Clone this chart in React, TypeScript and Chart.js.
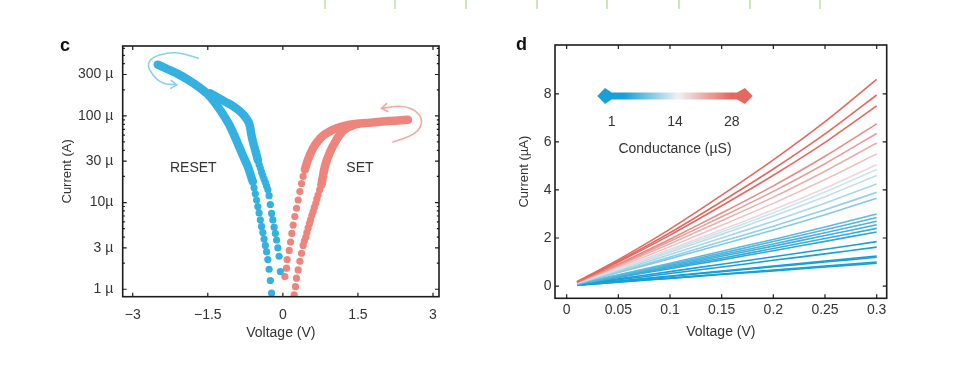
import React, { useEffect, useRef } from "react";
import { Chart, registerables } from "chart.js";
Chart.register(...registerables);

const FONT = "'Liberation Sans', Arial, Helvetica, sans-serif";
const TEXT = "#333333";

// ---------------- Panel c (I–V hysteresis, log current in µA) ----------------
const voltageTicksC = [-3, -1.5, 0, 1.5, 3];
const voltageTickLabelsC = ["−3", "−1.5", "0", "1.5", "3"];
const currentTicksC = [1, 3, 10, 30, 100, 300];
const currentTickLabelsC = ["1 µ", "3 µ", "10µ", "30 µ", "100 µ", "300 µ"];

// RESET branch with lower current (outer/left)
const resetBandLower: [number, number][] = [
  [-2.5, 390], [-2.3, 345], [-2.1, 305], [-1.9, 262], [-1.7, 220], [-1.5, 178],
  [-1.35, 140], [-1.2, 105], [-1.05, 75], [-0.9, 48], [-0.8, 35], [-0.7, 26], [-0.6, 17.4],
];
const resetDotsLower: [number, number][] = [
  [-0.6, 17.4], [-0.575, 14.8], [-0.55, 12.6], [-0.525, 10.7], [-0.5, 9.0], [-0.475, 7.6],
  [-0.45, 6.3], [-0.425, 5.3], [-0.4, 4.5], [-0.375, 3.8], [-0.35, 3.2], [-0.325, 2.7],
  [-0.3, 2.2], [-0.275, 1.7], [-0.25, 1.26], [-0.225, 0.9],
];
// RESET branch with higher current (inner/right)
const resetBandUpper: [number, number][] = [
  [-1.45, 182], [-1.3, 162], [-1.15, 145], [-1.0, 130], [-0.85, 112], [-0.75, 97],
  [-0.68, 84], [-0.65, 72], [-0.63, 61], [-0.6, 51], [-0.55, 40], [-0.5, 31],
];
const resetDotsUpper: [number, number][] = [
  [-0.5, 31], [-0.475, 27.5], [-0.45, 25], [-0.425, 22.4], [-0.4, 20.4], [-0.375, 18.6],
  [-0.35, 17], [-0.325, 15.5], [-0.3, 14.1], [-0.275, 12], [-0.25, 9.5], [-0.225, 7.5],
  [-0.2, 6.3], [-0.175, 5.2], [-0.15, 4.4], [-0.125, 3.7], [-0.1, 3.0], [-0.075, 2.4], [-0.05, 1.6],
];
// SET branch with higher current (inner/left)
const setDotsInner: [number, number][] = [
  [0.04, 1.4], [0.073, 1.75], [0.086, 2.2], [0.126, 2.8], [0.153, 3.5], [0.18, 4.4],
  [0.206, 5.5], [0.24, 6.9], [0.273, 8.6], [0.306, 10.7], [0.34, 13.4], [0.373, 16.6],
  [0.405, 20], [0.44, 24],
];
const setBandInner: [number, number][] = [
  [0.44, 24], [0.5, 31], [0.6, 42], [0.7, 51], [0.8, 59], [0.95, 67], [1.1, 73],
  [1.25, 77], [1.4, 80], [1.6, 82], [1.8, 84], [2.0, 86], [2.25, 88], [2.5, 90],
];
// SET branch with lower current (outer/right)
const setDotsOuter: [number, number][] = [
  [0.226, 0.86], [0.253, 1.07], [0.273, 1.34], [0.306, 1.67], [0.34, 2.1], [0.373, 2.6],
  [0.405, 3.2], [0.43, 3.6], [0.46, 4.0], [0.48, 4.5], [0.505, 5.1], [0.53, 5.7],
  [0.553, 6.3], [0.58, 7.1], [0.605, 7.9], [0.63, 8.8], [0.66, 9.8], [0.68, 11],
  [0.705, 12.2], [0.735, 14], [0.77, 16],
];
const setBandOuter: [number, number][] = [
  [0.77, 16], [0.84, 26], [0.94, 38], [1.07, 53], [1.17, 64], [1.27, 72], [1.4, 78], [1.5, 81],
];
// sweep-direction arrows (V, µA)
const resetArrowPath: [number, number][] = [
  [-1.69, 462], [-2.0, 530], [-2.3, 540], [-2.62, 470], [-2.71, 386], [-2.6, 290], [-2.4, 235], [-2.12, 228],
];
const setArrowPath: [number, number][] = [
  [2.2, 50], [2.6, 58], [2.8, 80], [2.72, 110], [2.4, 133], [1.97, 122],
];
const regionLabels: [string, number, number][] = [
  ["RESET", -1.79, 24.8],
  ["SET", 1.54, 24.8],
];

// ---------------- Panel d (linear I–V for many conductance states, µA) ----------------
const sweepVoltages = [0.01, 0.05, 0.1, 0.15, 0.2, 0.25, 0.3];
const sweepCurrents: number[][] = [
  [0.18, 1.1, 2.37, 3.78, 5.25, 6.84, 8.6],
  [0.17, 1.04, 2.22, 3.52, 4.87, 6.33, 7.95],
  [0.17, 1.0, 2.12, 3.34, 4.61, 5.98, 7.5],
  [0.16, 0.92, 1.95, 3.04, 4.17, 5.4, 6.75],
  [0.16, 0.88, 1.86, 2.88, 3.94, 5.09, 6.35],
  [0.15, 0.84, 1.76, 2.72, 3.7, 4.78, 5.95],
  [0.14, 0.79, 1.64, 2.53, 3.44, 4.43, 5.5],
  [0.14, 0.73, 1.53, 2.34, 3.17, 4.07, 5.05],
  [0.13, 0.7, 1.47, 2.25, 3.05, 3.91, 4.85],
  [0.13, 0.68, 1.41, 2.15, 2.91, 3.72, 4.6],
  [0.12, 0.64, 1.31, 2.0, 2.7, 3.45, 4.25],
  [0.11, 0.59, 1.21, 1.85, 2.49, 3.17, 3.9],
  [0.11, 0.56, 1.14, 1.73, 2.33, 2.97, 3.65],
  [0.09, 0.47, 0.95, 1.45, 1.94, 2.46, 3.0],
  [0.09, 0.45, 0.91, 1.37, 1.85, 2.34, 2.85],
  [0.08, 0.43, 0.86, 1.3, 1.75, 2.22, 2.7],
  [0.08, 0.4, 0.81, 1.24, 1.66, 2.1, 2.55],
  [0.07, 0.38, 0.77, 1.16, 1.56, 1.98, 2.4],
  [0.07, 0.36, 0.72, 1.09, 1.47, 1.86, 2.25],
  [0.06, 0.3, 0.6, 0.91, 1.22, 1.53, 1.85],
  [0.05, 0.26, 0.52, 0.79, 1.07, 1.34, 1.62],
  [0.04, 0.21, 0.42, 0.62, 0.83, 1.04, 1.25],
  [0.04, 0.2, 0.4, 0.6, 0.8, 1.0, 1.2],
  [0.03, 0.17, 0.33, 0.5, 0.67, 0.83, 1.0],
  [0.03, 0.16, 0.32, 0.48, 0.63, 0.79, 0.95],
];
const voltageTicksD = [0, 0.05, 0.1, 0.15, 0.2, 0.25, 0.3];
const voltageTickLabelsD = ["0", "0.05", "0.1", "0.15", "0.2", "0.25", "0.3"];
const currentTicksD = [0, 2, 4, 6, 8];
const currentTickLabelsD = ["0", "2", "4", "6", "8"];
const conductanceTickLabels = ["1", "14", "28"];

// ---------------- styles ----------------
const DOT_BLUE = "rgb(52,176,225)";
const DOT_RED = "rgb(237,133,124)";
const CM_BLUE = [24, 160, 214];
const CM_WHITE = [238, 242, 244];
const CM_RED = [228, 104, 96];

function mix(a: number[], b: number[], t: number) {
  return a.map((v, i) => Math.round(v + (b[i] - v) * t));
}
function rgb(c: number[]) {
  return `rgb(${c[0]},${c[1]},${c[2]})`;
}
function lineColor(end: number) {
  if (end < 4.9) {
    const t = 0.15 + 0.85 * Math.min(1, (4.9 - end) / 3.0);
    return rgb(mix(CM_WHITE, CM_BLUE, t));
  }
  const t = 0.15 + 0.85 * Math.min(1, (end - 4.9) / 2.6);
  return rgb(mix(CM_WHITE, CM_RED, t));
}

// frame with inward ticks on all four sides
const framePlugin = {
  id: "frame",
  afterDatasetsDraw(chart: any, _args: any, opts: any) {
    const { ctx, chartArea: a, scales } = chart;
    const xs = scales.x;
    const ys = scales.y;
    ctx.save();
    ctx.strokeStyle = "#1c1c1c";
    ctx.lineWidth = 1.2;
    ctx.beginPath();
    const major = opts.major ?? 4;
    const minor = opts.minor ?? 2.2;
    const xt = (v: number, L: number) => {
      const p = xs.getPixelForValue(v);
      ctx.moveTo(p, a.bottom);
      ctx.lineTo(p, a.bottom - L);
      ctx.moveTo(p, a.top);
      ctx.lineTo(p, a.top + L);
    };
    const yt = (v: number, L: number) => {
      const p = ys.getPixelForValue(v);
      ctx.moveTo(a.left, p);
      ctx.lineTo(a.left + L, p);
      ctx.moveTo(a.right, p);
      ctx.lineTo(a.right - L, p);
    };
    xs.ticks.forEach((t: any) => xt(t.value, major));
    ys.ticks.forEach((t: any) => yt(t.value, major));
    (opts.yMinor || []).forEach((v: number) => yt(v, minor));
    ctx.stroke();
    ctx.lineWidth = 1.6;
    ctx.strokeRect(a.left, a.top, a.right - a.left, a.bottom - a.top);
    ctx.restore();
  },
};

function drawCurve(ctx: CanvasRenderingContext2D, pts: { x: number; y: number }[]) {
  ctx.beginPath();
  ctx.moveTo(pts[0].x, pts[0].y);
  for (let i = 1; i < pts.length - 1; i++) {
    const mx = (pts[i].x + pts[i + 1].x) / 2;
    const my = (pts[i].y + pts[i + 1].y) / 2;
    ctx.quadraticCurveTo(pts[i].x, pts[i].y, mx, my);
  }
  const last = pts[pts.length - 1];
  ctx.lineTo(last.x, last.y);
  ctx.stroke();
  const prev = pts[pts.length - 2];
  const ang = Math.atan2(last.y - prev.y, last.x - prev.x);
  const L = 7;
  ctx.beginPath();
  ctx.moveTo(last.x - L * Math.cos(ang - 0.6), last.y - L * Math.sin(ang - 0.6));
  ctx.lineTo(last.x, last.y);
  ctx.lineTo(last.x - L * Math.cos(ang + 0.6), last.y - L * Math.sin(ang + 0.6));
  ctx.stroke();
}

const annotC = {
  id: "annotC",
  afterDraw(chart: any) {
    const { ctx, scales } = chart;
    const xs = scales.x;
    const ys = scales.y;
    const px = (p: [number, number]) => ({ x: xs.getPixelForValue(p[0]), y: ys.getPixelForValue(p[1]) });
    ctx.save();
    ctx.lineCap = "round";
    ctx.lineJoin = "round";
    ctx.lineWidth = 1.6;
    ctx.strokeStyle = "rgb(138,208,236)";
    drawCurve(ctx, resetArrowPath.map(px));
    ctx.strokeStyle = "rgb(244,168,158)";
    drawCurve(ctx, setArrowPath.map(px));
    ctx.fillStyle = TEXT;
    ctx.font = `14px ${FONT}`;
    ctx.textAlign = "center";
    ctx.textBaseline = "middle";
    regionLabels.forEach(([t, v, i]) => {
      const p = px([v, i]);
      ctx.fillText(t, p.x, p.y);
    });
    ctx.fillStyle = "#111";
    ctx.font = `bold 18px ${FONT}`;
    ctx.textAlign = "left";
    ctx.textBaseline = "alphabetic";
    ctx.fillText("c", 60, 51);
    ctx.restore();
  },
};

const annotD = {
  id: "annotD",
  afterDraw(chart: any) {
    const { ctx } = chart;
    ctx.save();
    // colour-bar double arrow
    const tipL = 117.3, wideL = 125, backL = 131.7, backR = 257, wideR = 265, tipR = 272.7;
    const cy = 96, bh = 3.5, hh = 8;
    const g = ctx.createLinearGradient(tipL, 0, tipR, 0);
    g.addColorStop(0, rgb(CM_BLUE));
    g.addColorStop(0.17, rgb(CM_BLUE));
    g.addColorStop(0.52, rgb(CM_WHITE));
    g.addColorStop(0.86, rgb(CM_RED));
    g.addColorStop(1, rgb(CM_RED));
    ctx.fillStyle = g;
    ctx.beginPath();
    ctx.moveTo(tipL, cy);
    ctx.lineTo(wideL, cy - hh);
    ctx.lineTo(backL, cy - bh);
    ctx.lineTo(backR, cy - bh);
    ctx.lineTo(wideR, cy - hh);
    ctx.lineTo(tipR, cy);
    ctx.lineTo(wideR, cy + hh);
    ctx.lineTo(backR, cy + bh);
    ctx.lineTo(backL, cy + bh);
    ctx.lineTo(wideL, cy + hh);
    ctx.closePath();
    ctx.fill();
    ctx.fillStyle = TEXT;
    ctx.font = `14px ${FONT}`;
    ctx.textAlign = "center";
    ctx.textBaseline = "middle";
    const lx = [131.7, 195, 251.7];
    conductanceTickLabels.forEach((t, i) => ctx.fillText(t, lx[i], 121.7));
    ctx.fillText("Conductance (µS)", 195, 149.3);
    ctx.fillStyle = "#111";
    ctx.font = `bold 18px ${FONT}`;
    ctx.textAlign = "left";
    ctx.textBaseline = "alphabetic";
    ctx.fillText("d", 36, 50);
    ctx.restore();
  },
};

const toXY = (arr: [number, number][]) => arr.map(([x, y]) => ({ x, y }));
const band = (arr: [number, number][], color: string) => ({
  data: toXY(arr),
  showLine: true,
  borderColor: color,
  borderWidth: 8.5,
  borderCapStyle: "round",
  borderJoinStyle: "round",
  tension: 0.25,
  pointRadius: 0,
});
const dots = (arr: [number, number][], color: string) => ({
  data: toXY(arr),
  showLine: false,
  pointRadius: 3.6,
  pointBorderWidth: 0,
  pointBackgroundColor: color,
  backgroundColor: color,
  borderColor: color,
});

const tickFont = { family: FONT, size: 14 };

function PanelC() {
  const ref = useRef<HTMLCanvasElement>(null);
  useEffect(() => {
    const yMinor: number[] = [];
    [1, 10, 100].forEach((d) => {
      for (let m = 2; m <= 9; m++) {
        const v = m * d;
        if (m !== 3 && v < 640) yMinor.push(v);
      }
    });
    const chart = new Chart(ref.current!, {
      type: "scatter",
      data: {
        datasets: [
          band(resetBandLower, DOT_BLUE),
          band(resetBandUpper, DOT_BLUE),
          dots(resetDotsLower, DOT_BLUE),
          dots(resetDotsUpper, DOT_BLUE),
          band(setBandInner, DOT_RED),
          band(setBandOuter, DOT_RED),
          dots(setDotsInner, DOT_RED),
          dots(setDotsOuter, DOT_RED),
        ] as any,
      },
      options: {
        responsive: false,
        animation: false,
        devicePixelRatio: 1,
        layout: { padding: { left: 60, top: 46, right: 41, bottom: 40.3 } },
        plugins: {
          legend: { display: false },
          tooltip: { enabled: false },
          frame: { yMinor, major: 4, minor: 2.2 },
        } as any,
        scales: {
          x: {
            type: "linear",
            min: -3.2,
            max: 3.12,
            grid: { display: false, drawTicks: false },
            border: { display: false },
            afterBuildTicks: (s: any) => {
              s.ticks = voltageTicksC.map((v) => ({ value: v }));
            },
            afterFit: (s: any) => {
              s.height = 45;
            },
            ticks: {
              autoSkip: false,
              maxRotation: 0,
              padding: 9.9,
              font: tickFont,
              color: TEXT,
              callback: (_v: any, i: number) => voltageTickLabelsC[i],
            },
            title: { display: true, text: "Voltage (V)", font: { family: FONT, size: 14 }, color: TEXT, padding: 0 },
          },
          y: {
            type: "logarithmic",
            min: 0.82,
            max: 640,
            grid: { display: false, drawTicks: false },
            border: { display: false },
            afterBuildTicks: (s: any) => {
              s.ticks = currentTicksC.map((v) => ({ value: v }));
            },
            afterFit: (s: any) => {
              s.width = 62.7;
            },
            ticks: {
              autoSkip: false,
              padding: 9.4,
              font: tickFont,
              color: TEXT,
              callback: (_v: any, i: number) => currentTickLabelsC[i],
            },
            title: { display: true, text: "Current (A)", font: { family: FONT, size: 13 }, color: TEXT, padding: 0 },
          },
        },
      } as any,
      plugins: [framePlugin, annotC],
    });
    return () => chart.destroy();
  }, []);
  return (
    <canvas
      ref={ref}
      width={480}
      height={382}
      style={{ position: "absolute", left: 0, top: 0, width: 480, height: 382 }}
    />
  );
}

function PanelD() {
  const ref = useRef<HTMLCanvasElement>(null);
  useEffect(() => {
    const datasets = sweepCurrents.map((row) => ({
      data: row.map((y, i) => ({ x: sweepVoltages[i], y })),
      showLine: true,
      borderColor: lineColor(row[row.length - 1]),
      borderWidth: 1.6,
      pointRadius: 0,
      tension: 0.2,
    }));
    const chart = new Chart(ref.current!, {
      type: "scatter",
      data: { datasets } as any,
      options: {
        responsive: false,
        animation: false,
        devicePixelRatio: 1,
        layout: { padding: { left: 36.2, top: 45, right: 76.3, bottom: 41.9 } },
        plugins: {
          legend: { display: false },
          tooltip: { enabled: false },
          frame: { major: 4 },
        } as any,
        scales: {
          x: {
            type: "linear",
            min: -0.0113,
            max: 0.3097,
            grid: { display: false, drawTicks: false },
            border: { display: false },
            afterBuildTicks: (s: any) => {
              s.ticks = voltageTicksD.map((v) => ({ value: v }));
            },
            afterFit: (s: any) => {
              s.height = 41.8;
            },
            ticks: {
              autoSkip: false,
              maxRotation: 0,
              padding: 3.3,
              font: tickFont,
              color: TEXT,
              callback: (_v: any, i: number) => voltageTickLabelsD[i],
            },
            title: { display: true, text: "Voltage (V)", font: { family: FONT, size: 14 }, color: TEXT, padding: 0 },
          },
          y: {
            type: "linear",
            min: -0.51,
            max: 10.03,
            grid: { display: false, drawTicks: false },
            border: { display: false },
            afterBuildTicks: (s: any) => {
              s.ticks = currentTicksD.map((v) => ({ value: v }));
            },
            afterFit: (s: any) => {
              s.width = 38.8;
            },
            ticks: {
              autoSkip: false,
              padding: 3.5,
              font: tickFont,
              color: TEXT,
              callback: (_v: any, i: number) => currentTickLabelsD[i],
            },
            title: { display: true, text: "Current (µA)", font: { family: FONT, size: 13 }, color: TEXT, padding: 0 },
          },
        },
      } as any,
      plugins: [framePlugin, annotD],
    });
    return () => chart.destroy();
  }, []);
  return (
    <canvas
      ref={ref}
      width={483}
      height={382}
      style={{ position: "absolute", left: 480, top: 0, width: 483, height: 382 }}
    />
  );
}

const greenMarks = [325, 395, 466, 537, 607, 679, 750, 820];

export default function App() {
  return (
    <div style={{ position: "absolute", left: 0, top: 0, width: 963, height: 382, background: "#fff", overflow: "hidden" }}>
      {greenMarks.map((x) => (
        <div
          key={x}
          style={{ position: "absolute", left: x - 1, top: 0, width: 2, height: 9, background: "#cfe5bf" }}
        />
      ))}
      <PanelC />
      <PanelD />
    </div>
  );
}
